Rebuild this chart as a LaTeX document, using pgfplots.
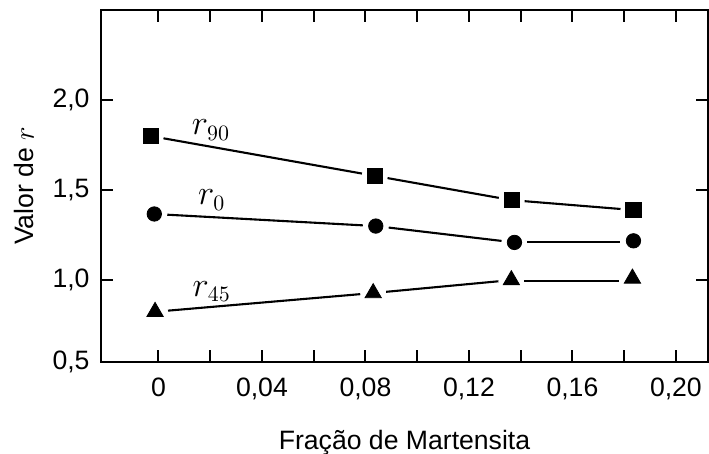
\documentclass[border=0pt]{standalone}
\usepackage{fontspec}
\setmainfont{Liberation Sans}
\usepackage{pgfplots}
\pgfplotsset{compat=1.18}
\pgfplotsset{seg/.style={black, line width=1.05pt, no marks, shorten <=6.5pt, shorten >=6.5pt}}
\begin{document}
\begin{tikzpicture}
\begin{axis}[
  scale only axis,
  width=303.5pt, height=176pt,
  xmin=-0.0222, xmax=0.2124,
  ymin=0.545, ymax=2.5,
  axis line style={line width=1.25pt},
  xtick={0,0.04,0.08,0.12,0.16,0.20},
  xticklabels={{0},{0,04},{0,08},{0,12},{0,16},{0,20}},
  minor xtick={0.02,0.06,0.10,0.14,0.18},
  ytick={0.545,1,1.5,2},
  yticklabels={{0,5},{1,0},{1,5},{2,0}},
  tick align=inside,
  tick pos=both,
  major tick length=6pt, minor tick length=6pt,
  every tick/.style={black, line width=1pt},
  tick label style={font=\fontsize{13.3}{15}\selectfont},
  xticklabel style={yshift=-4.5pt},
  yticklabel style={xshift=-2.2pt},
  xlabel={Fração de Martensita},
  ylabel={Valor de $r$},
  label style={font=\fontsize{13.3}{15}\selectfont},
  x label style={at={(axis description cs:0.5,-0.25)}, anchor=base},
  y label style={at={(axis description cs:-0.1104,0.5)}, anchor=base},
  clip=false,
]
% markers
\addplot[black, only marks, mark=square*, mark size=3.8pt] coordinates {(-0.003,1.80) (0.0836,1.579) (0.1365,1.444) (0.1836,1.389)};
\addplot[black, only marks, mark=*, mark size=3.6pt] coordinates {(-0.0016,1.367) (0.084,1.30) (0.1376,1.209) (0.1836,1.218)};
\addplot[black, only marks, mark=triangle*, mark size=4.7pt] coordinates {(-0.0013,0.824) (0.083,0.928) (0.1364,1.0) (0.1832,1.009)};
% line segments with gaps
\addplot[seg] coordinates {(-0.003,1.80) (0.0836,1.579)};
\addplot[seg] coordinates {(0.0836,1.579) (0.1365,1.444)};
\addplot[seg] coordinates {(0.1365,1.444) (0.1836,1.389)};
\addplot[seg] coordinates {(-0.0016,1.367) (0.084,1.30)};
\addplot[seg] coordinates {(0.084,1.30) (0.1376,1.209)};
\addplot[seg] coordinates {(0.1376,1.209) (0.1836,1.209)};
\addplot[seg] coordinates {(-0.0013,0.824) (0.083,0.928)};
\addplot[seg] coordinates {(0.083,0.928) (0.1364,1.0)};
\addplot[seg] coordinates {(0.1364,0.995) (0.1832,0.995)};
\node[font=\fontsize{16}{18}\selectfont] at (axis cs:0.0203,1.833) {$r_{90}$};
\node[font=\fontsize{16}{18}\selectfont] at (axis cs:0.0206,1.444) {$r_{0}$};
\node[font=\fontsize{16}{18}\selectfont] at (axis cs:0.0206,0.935) {$r_{45}$};
\end{axis}
\pgfresetboundingbox
\path[use as bounding box] ([shift={(-50.5pt,-46pt)}]current axis.south west) rectangle ++(354.5pt,227pt);
\end{tikzpicture}
\end{document}
